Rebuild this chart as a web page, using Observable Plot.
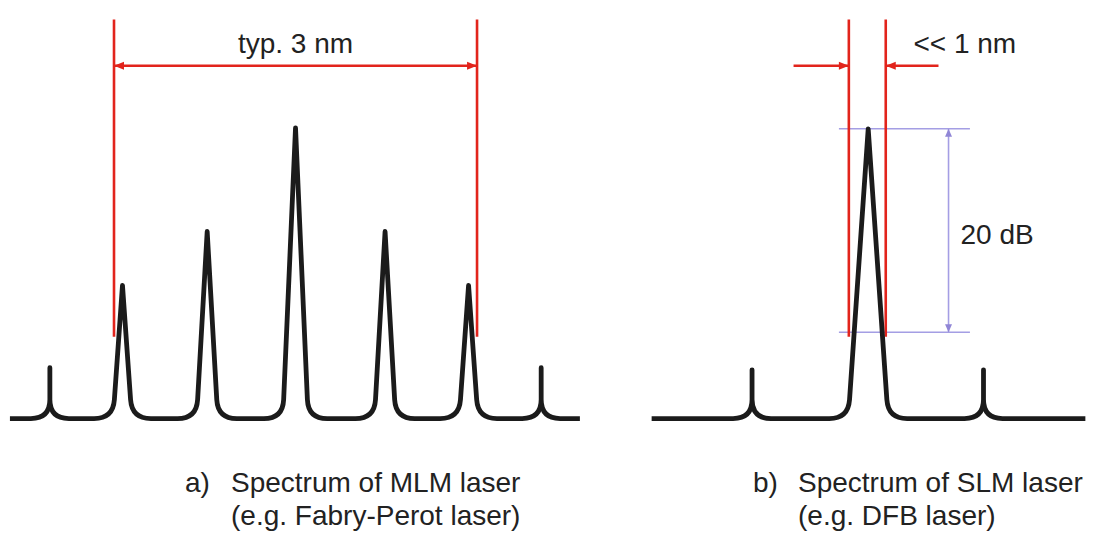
<!DOCTYPE html>
<html><head><meta charset="utf-8">
<script src="https://cdn.jsdelivr.net/npm/d3@7"></script>
<script src="https://cdn.jsdelivr.net/npm/@observablehq/plot@0.6"></script>
<style>
body{margin:0;background:#fff;}
#wrap{position:relative;width:1096px;height:539px;overflow:hidden;font-family:"Liberation Sans",Arial,sans-serif;color:#222;}
.panel{position:absolute;top:0;}
.cap{position:absolute;top:466px;font-size:28px;line-height:33px;white-space:nowrap;}
</style></head><body><div id="wrap"></div>
<script>
// ---------------- DATA ----------------
// common: relative power in dB (0 dB = main mode of the SLM laser)
const noiseFloorDb = -28.5;

// a) multi-longitudinal-mode (Fabry-Perot) laser; wavelength offset in nm from the central mode
const mlmModeNm        = [-2.03, -1.43, -0.73, 0, 0.74, 1.43, 2.03];
const mlmModePeakDb    = [-23.5, -15.4, -10.1, 0.1, -10.1, -15.4, -23.5];
const mlmModeHalfWidth = [0, 0.078, 0.088, 0.105, 0.088, 0.078, 0];
const mlmSpanNm        = [-2.36, 2.35];
const mlmMarkerNm      = [-1.5, 1.5];
const mlmLabel         = "typ. 3 nm";

// b) single-longitudinal-mode (DFB) laser
const slmModeNm        = [-0.96, 0, 0.953];
const slmModePeakDb    = [-23.7, 0, -23.7];
const slmModeHalfWidth = [0, 0.165, 0];
const slmSpanNm        = [-1.79, 1.795];
const slmMarkerNm      = [-0.16, 0.145];
const slmLabel         = "<< 1 nm";
const smsrLevelsDb     = [0, -20];
const smsrLabel        = "20 dB";

// captions
const captionTags  = ["a)", "b)"];
const captionLines = [
  ["Spectrum of MLM laser", "(e.g. Fabry-Perot laser)"],
  ["Spectrum of SLM laser", "(e.g. DFB laser)"]
];

// ---------------- LAYOUT / STYLE ----------------
const H = 460;
const yDomain = [-32.62, 12.62];
const markerTopDb = 10.7, markerBottomDb = -20.5, arrowDb = 6.2, labelDb = 8.3;
const slmArrowTailNm = [-0.617, 0.581];
const smsrLineNm = [-0.238, 0.845], smsrArrowNm = 0.664, smsrLabelNm = 0.763, smsrLabelDb = -10.4;
const slmLabelNm = 0.374;
const RED = "#e2241c", BLACK = "#1b1b1b", LILAC = "#a49ee4", LILAC_HEAD = "#9086d6", INK = "#222";
const FONT = "Liberation Sans, Arial, sans-serif";

// custom curve: straight segments, rounded feet, sharp apex
const roundedFoot = (radius) => (context) => {
  let pts;
  return {
    areaStart() {}, areaEnd() {},
    lineStart() { pts = []; },
    point(x, y) { pts.push([+x, +y]); },
    lineEnd() {
      const n = pts.length; if (!n) return;
      context.moveTo(pts[0][0], pts[0][1]);
      for (let i = 1; i < n - 1; i++) {
        const [px, py] = pts[i - 1], [cx, cy] = pts[i], [nx, ny] = pts[i + 1];
        const ax = px - cx, ay = py - cy, bx = nx - cx, by = ny - cy;
        const la = Math.hypot(ax, ay), lb = Math.hypot(bx, by);
        if (!la || !lb) { context.lineTo(cx, cy); continue; }
        const cos = (ax * bx + ay * by) / (la * lb);
        if (cos > 0.5) { context.lineTo(cx, cy); continue; }
        const r = Math.min(radius, la / 2, lb / 2);
        context.lineTo(cx + ax / la * r, cy + ay / la * r);
        context.quadraticCurveTo(cx, cy, cx + bx / lb * r, cy + by / lb * r);
      }
      if (n > 1) context.lineTo(pts[n - 1][0], pts[n - 1][1]);
    }
  };
};

// narrow arrowhead symbol, tip at the anchor, pointing up before rotation
const head = (len, half) => ({
  draw(ctx) { ctx.moveTo(0, 0); ctx.lineTo(half, len); ctx.lineTo(-half, len); ctx.closePath(); }
});
const redHead = head(10, 4);
const lilacHead = head(8, 3.5);

function spectrumVertices(modes, peaks, halfWidths, span) {
  const v = [{x: span[0], y: noiseFloorDb}];
  modes.forEach((c, i) => {
    v.push({x: c - halfWidths[i], y: noiseFloorDb},
           {x: c, y: peaks[i]},
           {x: c + halfWidths[i], y: noiseFloorDb});
  });
  v.push({x: span[1], y: noiseFloorDb});
  return v;
}

const spectrumLine = (data) => Plot.line(data, {
  x: "x", y: "y", stroke: BLACK, strokeWidth: 4.8,
  strokeLinejoin: "round", strokeLinecap: "butt", curve: roundedFoot(19)
});

const textStyle = {fontSize: 28, fontFamily: FONT, fill: INK};

// ---------- panel a ----------
const plotA = Plot.plot({
  width: 580, height: H, margin: 0,
  x: {domain: [-2.438, 2.355], axis: null},
  y: {domain: yDomain, axis: null},
  marks: [
    Plot.ruleX(mlmMarkerNm, {x: d => d, y1: markerBottomDb, y2: markerTopDb, stroke: RED, strokeWidth: 2.6}),
    Plot.link([mlmMarkerNm], {x1: d => d[0], x2: d => d[1], y1: arrowDb, y2: arrowDb, stroke: RED, strokeWidth: 2.6}),
    Plot.dot(mlmMarkerNm, {x: d => d, y: arrowDb, symbol: redHead, fill: RED, stroke: null,
      rotate: d => d < 0 ? -90 : 90}),
    Plot.text([mlmLabel], {x: d3.mean(mlmMarkerNm), y: labelDb, text: d => d, ...textStyle}),
    spectrumLine(spectrumVertices(mlmModeNm, mlmModePeakDb, mlmModeHalfWidth, mlmSpanNm))
  ]
});

// ---------- panel b ----------
const plotB = Plot.plot({
  width: 516, height: H, margin: 0,
  x: {domain: [-2.378, 1.887], axis: null},
  y: {domain: yDomain, axis: null},
  marks: [
    Plot.ruleY(smsrLevelsDb, {y: d => d, x1: smsrLineNm[0], x2: smsrLineNm[1], stroke: LILAC, strokeWidth: 1.6}),
    Plot.link([smsrLevelsDb], {x1: smsrArrowNm, x2: smsrArrowNm, y1: d => d[0], y2: d => d[1], stroke: LILAC, strokeWidth: 1.6}),
    Plot.dot(smsrLevelsDb, {x: smsrArrowNm, y: d => d, symbol: lilacHead, fill: LILAC_HEAD, stroke: null,
      rotate: d => d === d3.max(smsrLevelsDb) ? 0 : 180}),
    Plot.text([smsrLabel], {x: smsrLabelNm, y: smsrLabelDb, text: d => d, textAnchor: "start", ...textStyle}),
    Plot.ruleX(slmMarkerNm, {x: d => d, y1: markerBottomDb, y2: markerTopDb, stroke: RED, strokeWidth: 2.6}),
    Plot.link(slmMarkerNm, {x1: (d, i) => slmArrowTailNm[i], x2: d => d, y1: arrowDb, y2: arrowDb, stroke: RED, strokeWidth: 2.6}),
    Plot.dot(slmMarkerNm, {x: d => d, y: arrowDb, symbol: redHead, fill: RED, stroke: null,
      rotate: (d, i) => i === 0 ? 90 : -90}),
    Plot.text([slmLabel], {x: slmLabelNm, y: labelDb, text: d => d, textAnchor: "start", ...textStyle}),
    spectrumLine(spectrumVertices(slmModeNm, slmModePeakDb, slmModeHalfWidth, slmSpanNm))
  ]
});

const wrap = document.getElementById("wrap");
[[plotA, 0], [plotB, 580]].forEach(([p, left]) => {
  p.classList.add("panel");
  p.style.left = left + "px";
  p.style.overflow = "visible";
  wrap.appendChild(p);
});

// captions (below the SVGs)
const capPos = [{tag: 185, body: 231}, {tag: 753, body: 798}];
captionTags.forEach((t, i) => {
  const tag = document.createElement("div");
  tag.className = "cap"; tag.style.left = capPos[i].tag + "px"; tag.textContent = t;
  const body = document.createElement("div");
  body.className = "cap"; body.style.left = capPos[i].body + "px";
  body.innerHTML = captionLines[i].map(s => s.replace(/</g, "&lt;")).join("<br>");
  wrap.appendChild(tag); wrap.appendChild(body);
});
</script></body></html>
